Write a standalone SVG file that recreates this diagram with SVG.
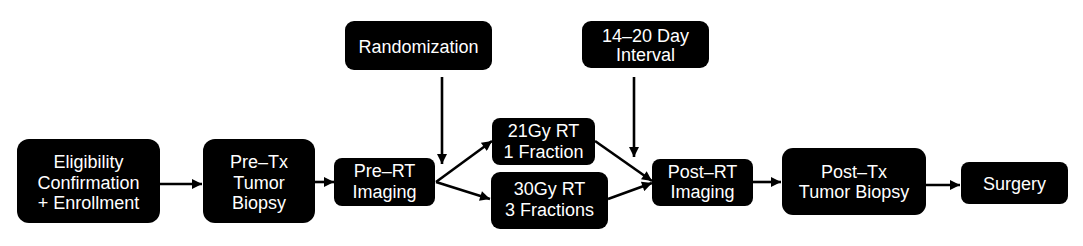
<svg xmlns="http://www.w3.org/2000/svg" width="1083" height="246" viewBox="0 0 1083 246">
<style>
.box{fill:#000;}
.t{fill:#fff;font-family:"Liberation Sans",Arial,sans-serif;font-size:18px;text-anchor:middle;}
.c{stroke:#000;stroke-width:2.6;fill:none;marker-end:url(#ah);}
</style>
<defs>
<marker id="ah" viewBox="0 0 10 10" refX="10" refY="5" markerWidth="11" markerHeight="10" markerUnits="userSpaceOnUse" orient="auto">
<path d="M0,0 L10,5 L0,10 z" fill="#000"/>
</marker>
</defs>
<rect width="1083" height="246" fill="#fff"/>
<g id="connectors">
<line class="c" x1="160" y1="184" x2="202" y2="184"/>
<line class="c" x1="315" y1="182" x2="334" y2="182"/>
<line class="c" x1="442" y1="77" x2="442" y2="164"/>
<line class="c" x1="436" y1="182" x2="492" y2="141"/>
<line class="c" x1="436" y1="182" x2="490" y2="199"/>
<line class="c" x1="634" y1="77" x2="634" y2="157"/>
<line class="c" x1="595" y1="141" x2="652" y2="181"/>
<line class="c" x1="608" y1="199" x2="652" y2="183"/>
<line class="c" x1="753" y1="182" x2="781" y2="182"/>
<line class="c" x1="926" y1="185" x2="960" y2="185"/>
</g>
<g id="eligibility">
<rect class="box" x="17" y="139" width="143" height="84" rx="12"/>
<text class="t" x="88.5" y="168">Eligibility</text>
<text class="t" x="88.5" y="188.5">Confirmation</text>
<text class="t" x="88.5" y="209">+ Enrollment</text>
</g>
<g id="pretx">
<rect class="box" x="203" y="139" width="112" height="84" rx="12"/>
<text class="t" x="259" y="168">Pre–Tx</text>
<text class="t" x="259" y="188.5">Tumor</text>
<text class="t" x="259" y="209">Biopsy</text>
</g>
<g id="prert">
<rect class="box" x="334" y="158" width="101" height="48" rx="8"/>
<text class="t" x="384.5" y="177">Pre–RT</text>
<text class="t" x="384.5" y="197.5">Imaging</text>
</g>
<g id="randomization">
<rect class="box" x="345" y="21" width="147" height="49" rx="9"/>
<text class="t" x="418.5" y="52.5">Randomization</text>
</g>
<g id="interval">
<rect class="box" x="582" y="21" width="127" height="47" rx="9"/>
<text class="t" x="645.5" y="41.5">14–20 Day</text>
<text class="t" x="645.5" y="61">Interval</text>
</g>
<g id="rt21">
<rect class="box" x="492" y="118" width="103" height="47" rx="8"/>
<text class="t" x="543.5" y="137">21Gy RT</text>
<text class="t" x="543.5" y="157.5">1 Fraction</text>
</g>
<g id="rt30">
<rect class="box" x="491" y="172" width="117" height="57" rx="9"/>
<text class="t" x="549.5" y="195">30Gy RT</text>
<text class="t" x="549.5" y="216">3 Fractions</text>
</g>
<g id="postrt">
<rect class="box" x="652" y="159" width="101" height="47" rx="8"/>
<text class="t" x="702.5" y="178">Post–RT</text>
<text class="t" x="702.5" y="198">Imaging</text>
</g>
<g id="posttx">
<rect class="box" x="782" y="148" width="144" height="67" rx="11"/>
<text class="t" x="854" y="178">Post–Tx</text>
<text class="t" x="854" y="198">Tumor Biopsy</text>
</g>
<g id="surgery">
<rect class="box" x="961" y="162" width="107" height="42" rx="8"/>
<text class="t" x="1014.5" y="189.5">Surgery</text>
</g>
</svg>
